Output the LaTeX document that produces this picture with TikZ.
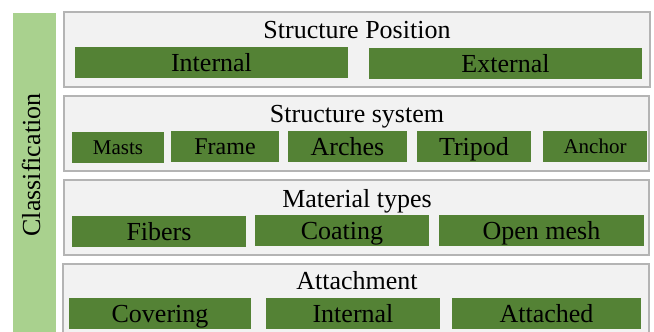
\documentclass[tikz,border=0pt]{standalone}
\usepackage{fontspec}
\setmainfont{Liberation Serif}
\definecolor{bargreen}{HTML}{548235}
\definecolor{lightgreen}{HTML}{A9D18E}
\definecolor{panelfill}{HTML}{F2F2F2}
\definecolor{panelline}{HTML}{B4B4B4}
\begin{document}
\begin{tikzpicture}[x=1pt,y=-1pt,
  panel/.style={draw=panelline,fill=panelfill,line width=2.5pt},
  bar/.style={fill=bargreen,inner sep=0pt,text height=17pt,text depth=0pt,font=\fontsize{26}{30}\selectfont},
  smallbar/.style={bar,text height=14pt,font=\fontsize{21}{25}\selectfont},
  title/.style={anchor=base,inner sep=0pt,font=\fontsize{26}{30}\selectfont}]
\useasboundingbox (0,0) rectangle (654,332);
\clip (0,0) rectangle (654,332);
% classification bar
\fill[lightgreen] (13,13) rectangle (56,345);
\node[anchor=base,rotate=90,inner sep=0pt,font=\fontsize{26}{30}\selectfont] (cls) at (40,165) {Classification};
% panels
\draw[panel] (64.2,12.2) rectangle (649.8,86.8);
\draw[panel] (64.2,96.2) rectangle (648.8,170.8);
\draw[panel] (64.2,180.2) rectangle (648.8,254.8);
\draw[panel] (63.2,264.2) rectangle (648.8,345);
% titles
\node[title] (t1) at (357,38) {Structure Position};
\node[title] (t2) at (357,122) {Structure system};
\node[title] (t3) at (357,207) {Material types};
\node[title] (t4) at (357,289) {Attachment};
% row 1
\node[bar,minimum width=273pt,minimum height=31pt] (pint) at (211.5,62.5) {Internal};
\node[bar,minimum width=273pt,minimum height=31pt] (pext) at (505.5,63.5) {External};
% row 2
\node[smallbar,minimum width=92pt,minimum height=31pt] (masts) at (118,147.5) {Masts};
\node[bar,text height=16pt,font=\fontsize{24}{28}\selectfont,minimum width=108pt,minimum height=31pt] (frame) at (225,146.5) {Frame};
\node[bar,minimum width=119pt,minimum height=31pt] (arches) at (347.5,146.5) {Arches};
\node[bar,minimum width=114pt,minimum height=31pt] (tripod) at (474,146.5) {Tripod};
\node[smallbar,minimum width=104pt,minimum height=31pt] (anchor) at (595,146.5) {Anchor};
% row 3
\node[bar,minimum width=174pt,minimum height=31pt] (fibers) at (159,231.5) {Fibers};
\node[bar,minimum width=174pt,minimum height=31pt] (coating) at (342,230.5) {Coating};
\node[bar,minimum width=205pt,minimum height=31pt] (mesh) at (541.5,230.5) {Open mesh};
% row 4
\node[bar,minimum width=182pt,minimum height=31pt] (cover) at (160,313.5) {Covering};
\node[bar,minimum width=174pt,minimum height=31pt] (aint) at (353,313.5) {Internal};
\node[bar,minimum width=189pt,minimum height=31pt] (attached) at (546.5,313.5) {Attached};
\end{tikzpicture}
\end{document}
